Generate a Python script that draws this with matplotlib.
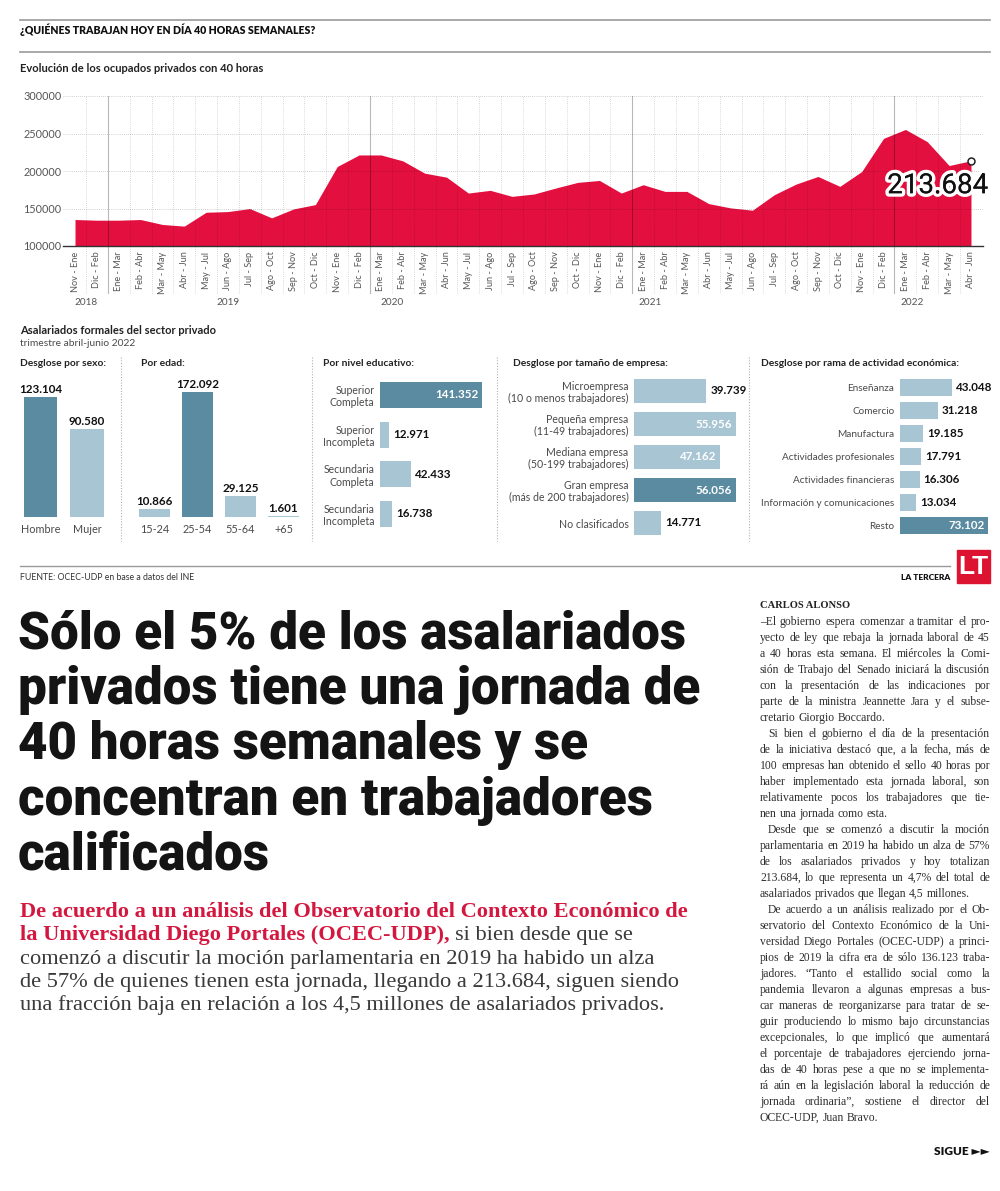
import matplotlib
matplotlib.use('Agg')
import numpy as np
import matplotlib.pyplot as plt
import matplotlib.patheffects as pe
import matplotlib.transforms as mtrans
from matplotlib import font_manager
from matplotlib.font_manager import FontProperties
from matplotlib.lines import Line2D
from matplotlib.patches import Rectangle

# ── datos ───────────────────────────────────────────────────
meses = ['Nov - Ene', 'Dic - Feb', 'Ene - Mar', 'Feb - Abr', 'Mar - May', 'Abr - Jun',
         'May - Jul', 'Jun - Ago', 'Jul - Sep', 'Ago - Oct', 'Sep - Nov', 'Oct - Dic']
periodos = meses * 3 + meses[:6]
ocupados = [135300, 134400, 134400, 135300, 128700, 126500, 145000, 145900, 149900,
            137500, 149400, 155200, 206000, 221400, 221400, 213500, 197100, 191800,
            170600, 174200, 166200, 169300, 177300, 184800, 187400, 170600, 181700,
            172800, 172800, 156500, 150800, 147700, 168400, 182600, 192700, 179500,
            199300, 243500, 255400, 239100, 207300, 213684]
anos = ['2018', '2019', '2020', '2021', '2022']
ano_pos = [0.5, 7, 14.5, 26.3, 38.3]
cortes_ano = [1.5, 13.5, 25.5, 37.5]

sexo_cat = ['Hombre', 'Mujer']
sexo_val = [123104, 90580]
edad_cat = ['15-24', '25-54', '55-64', '+65']
edad_val = [10866, 172092, 29125, 1601]
edu_cat = ['Superior\nCompleta', 'Superior\nIncompleta', 'Secundaria\nCompleta',
           'Secundaria\nIncompleta']
edu_val = [141352, 12971, 42433, 16738]
tam_cat = ['Microempresa\n(10 o menos trabajadores)', 'Pequeña empresa\n(11-49 trabajadores)',
           'Mediana empresa\n(50-199 trabajadores)', 'Gran empresa\n(más de 200 trabajadores)',
           'No clasificados']
tam_val = [39739, 55956, 47162, 56056, 14771]
rama_cat = ['Enseñanza', 'Comercio', 'Manufactura', 'Actividades profesionales',
            'Actividades financieras', 'Información y comunicaciones', 'Resto']
rama_val = [43048, 31218, 19185, 17791, 16306, 13034, 73102]

# ── estilo ──────────────────────────────────────────────────
RED = '#e3103f'
DARK = '#5b8ba0'
LIGHT = '#a8c5d3'
GTXT = '#4a4a4a'

fonts = {f.name for f in font_manager.fontManager.ttflist}
SANS = 'Lato' if 'Lato' in fonts else 'DejaVu Sans'
NARROW = 'Liberation Sans Narrow' if 'Liberation Sans Narrow' in fonts else 'Roboto'
SERIF = 'Liberation Serif' if 'Liberation Serif' in fonts else 'DejaVu Serif'
plt.rcParams['font.family'] = [SANS, 'DejaVu Sans']

W, H = 1000, 1191
fig = plt.figure(figsize=(W / 100, H / 100), dpi=100)
fig.patch.set_facecolor('white')
renderer = fig.canvas.get_renderer()


def px_ax(x0, y0, x1, y1):
    return fig.add_axes([x0 / W, 1 - y1 / H, (x1 - x0) / W, (y1 - y0) / H])


def ftxt(x, y, s, **kw):
    return fig.text(x / W, 1 - y / H, s, **kw)


def hline(y, x0, x1, color='#9a9a9a', lw=1.2, ls='-'):
    fig.add_artist(Line2D([x0 / W, x1 / W], [1 - y / H, 1 - y / H], color=color, lw=lw, ls=ls,
                          transform=fig.transFigure))


def vline(x, y0, y1, color='#b0b0b0', lw=0.8, ls=(0, (1, 1.5))):
    fig.add_artist(Line2D([x / W, x / W], [1 - y0 / H, 1 - y1 / H], color=color, lw=lw, ls=ls,
                          transform=fig.transFigure))


def text_w(s, prop):
    return renderer.get_text_width_height_descent(s, prop, ismath=False)[0]


def fmt(v):
    return f'{v:,}'.replace(',', '.')


# ── cabecera ────────────────────────────────────────────────
hline(20, 20, 990)
ftxt(20, 30, '¿QUIÉNES TRABAJAN HOY EN DÍA 40 HORAS SEMANALES?', fontsize=7.6,
     fontweight='heavy', va='center', color='#111')
hline(52, 20, 990)
ftxt(20, 68, 'Evolución de los ocupados privados con 40 horas', fontsize=8,
     fontweight='bold', va='center', color='#222')

# ── área ────────────────────────────────────────────────────
ax = px_ax(63, 96, 983, 246)
x = np.arange(len(ocupados))
ax.fill_between(x, ocupados, 100000, color=RED, lw=0, zorder=1)
ax.set_xlim(-0.55, 41.55)
ax.set_ylim(100000, 300000)
ax.set_yticks([100000, 150000, 200000, 250000, 300000])
ax.set_yticklabels(['100000', '150000', '200000', '250000', '300000'])
ax.set_xticks(x)
ax.set_xticklabels(periodos, rotation=90, fontsize=6.6, color='#555')
ax.tick_params(axis='y', length=0, pad=1, labelsize=7.8, labelcolor='#555')
ax.tick_params(axis='x', length=0, pad=4)
for s in ['top', 'right', 'left']:
    ax.spines[s].set_visible(False)
ax.spines['bottom'].set_color('#333')
ax.spines['bottom'].set_linewidth(1.0)
ax.spines['bottom'].set_zorder(4)
ax.yaxis.grid(True, color='#000', alpha=0.25, lw=0.6, ls=(0, (1, 1.5)), zorder=2)
ax.set_axisbelow(False)
tr = mtrans.blended_transform_factory(ax.transData, ax.transAxes)
for p in np.arange(0.5, 41):
    if p in cortes_ano:
        ax.plot([p, p], [-0.31, 1], transform=tr, color='#000', alpha=0.28, lw=0.8,
                clip_on=False, zorder=3)
    else:
        ax.plot([p, p], [-0.31, 1], transform=tr, color='#000', alpha=0.2, lw=0.6,
                ls=(0, (1, 1.5)), clip_on=False, zorder=3)
for a, p in zip(anos, ano_pos):
    ax.text(p, -0.375, a, transform=tr, ha='center', va='center', fontsize=7.2, color='#555')
ax.plot(x[-1], ocupados[-1], 'o', mfc='white', mec='#222', ms=5, mew=1.1,
        clip_on=False, zorder=6)
# etiqueta del último valor, colocada junto al punto final
px_last = ax.transData.transform((x[-1], ocupados[-1]))
lab = fig.text((px_last[0] + 17) / W, (px_last[1] - 25) / H, fmt(ocupados[-1]), ha='right',
               va='center', fontsize=20, family=NARROW, color='#111', zorder=7)
lab.set_path_effects([pe.withStroke(linewidth=5, foreground='white'), pe.Normal()])

# ── paneles de barras ───────────────────────────────────────
ftxt(20, 331, 'Asalariados formales del sector privado', fontsize=8, fontweight='bold',
     va='center', color='#222')
ftxt(20, 344, 'trimestre abril-junio 2022', fontsize=7.4, va='center', color=GTXT)
for hx, ht in [(20, 'Desglose por sexo:'), (141, 'Por edad:'), (323, 'Por nivel educativo:'),
               (513, 'Desglose por tamaño de empresa:'),
               (761, 'Desglose por rama de actividad económica:')]:
    ftxt(hx, 364, ht, fontsize=7.4, fontweight='bold', va='center', color='#222')
for vx in [121, 312, 497, 749]:
    vline(vx, 357, 541)


def colores(vals):
    m = int(np.argmax(vals))
    return [DARK if i == m else LIGHT for i in range(len(vals))]


def vbars(box, c0, step, k, cats, vals):
    x0, y0, x1, y1 = box
    a = px_ax(*box)
    a.bar(range(len(vals)), vals, width=0.72, color=colores(vals))
    a.set_xlim((x0 - c0) / step, (x1 - c0) / step)
    a.set_ylim(0, (y1 - y0) / k)
    a.set_xticks(range(len(vals)))
    a.set_xticklabels(cats, fontsize=7.8, color=GTXT)
    a.tick_params(length=0, pad=5)
    a.set_yticks([])
    for s in a.spines.values():
        s.set_visible(False)
    a.patch.set_alpha(0)
    for i, v in enumerate(vals):
        a.annotate(fmt(v), (i, v), xytext=(0, 2), textcoords='offset pixels', ha='center',
                   va='bottom', fontsize=8.4, fontweight='bold', color='#111')


def hbars(box, c0, step, k, cats, vals, h, fs=7.6):
    x0, y0, x1, y1 = box
    a = px_ax(*box)
    a.barh(range(len(vals)), vals, height=h, color=colores(vals))
    a.set_ylim((y1 - c0) / step, (y0 - c0) / step)
    a.set_xlim(0, (x1 - x0) / k)
    a.set_yticks(range(len(vals)))
    a.set_yticklabels(cats, fontsize=fs, color=GTXT, linespacing=1.15)
    a.tick_params(length=0, pad=4)
    a.set_xticks([])
    for s in a.spines.values():
        s.set_visible(False)
    a.patch.set_alpha(0)
    vmax = max(vals)
    for i, v in enumerate(vals):
        if v >= 0.8 * vmax:
            a.annotate(fmt(v), (v, i), xytext=(-4, 0), textcoords='offset pixels', ha='right',
                       va='center', fontsize=8.4, fontweight='bold', color='white')
        else:
            a.annotate(fmt(v), (v, i), xytext=(4, 0), textcoords='offset pixels', ha='left',
                       va='center', fontsize=8.4, fontweight='bold', color='#111')


vbars((20, 380, 110, 517), 40.5, 46.5, 0.000975, sexo_cat, sexo_val)
vbars((130, 380, 305, 517), 154.5, 43, 0.000727, edad_cat, edad_val)
hbars((380, 375, 490, 535), 395, 39.6, 0.000722, edu_cat, edu_val, 0.66)
hbars((634, 375, 740, 535), 391, 33, 0.001823, tam_cat, tam_val, 0.70)
hbars((900, 375, 992, 535), 387.7, 22.93, 0.001208, rama_cat, rama_val, 0.72, fs=7.2)

# ── pie del gráfico ─────────────────────────────────────────
hline(566, 20, 950, lw=1.0)
ftxt(20, 578, 'FUENTE: OCEC-UDP en base a datos del INE', fontsize=6.3, va='center',
     color='#333')
ftxt(950, 578, 'LA TERCERA', fontsize=6, fontweight='heavy', va='center', ha='right',
     color='#111')
fig.add_artist(Rectangle((957 / W, 1 - 583 / H), 33 / W, 33 / H, color='#dd1431',
                         transform=fig.transFigure))
ftxt(973.5, 567, 'LT', fontsize=19, fontweight='bold', color='white', ha='center',
     va='center', family='Liberation Sans')

# ── titular ─────────────────────────────────────────────────
titular = ['Sólo el 5% de los asalariados', 'privados tiene una jornada de',
           '40 horas semanales y se', 'concentran en trabajadores', 'calificados']
tp = FontProperties(family=NARROW, weight='black', size=40)
tsize = 40 * 668 / text_w(titular[0], tp)
for i, ln in enumerate(titular):
    ftxt(18, 648 + 55.6 * i, ln, fontsize=tsize, family=NARROW, fontweight='black',
         color='#141414', va='baseline')

# ── bajada ──────────────────────────────────────────────────
bp = FontProperties(family=SERIF, size=15)
bsize = 15 * 662 / text_w('de 57% de quienes tienen esta jornada, llegando a 213.684, siguen siendo', bp)
bp = FontProperties(family=SERIF, size=bsize)
bpb = FontProperties(family=SERIF, size=bsize, weight='bold')
LEDE_RED = '#d3173f'
ftxt(20, 917, 'De acuerdo a un análisis del Observatorio del Contexto Económico de',
     fontproperties=bpb, color=LEDE_RED, va='baseline')
rojo2 = 'la Universidad Diego Portales (OCEC-UDP),'
ftxt(20, 940.3, rojo2, fontproperties=bpb, color=LEDE_RED, va='baseline')
ftxt(20 + text_w(rojo2 + ' ', bpb), 940.3, 'si bien desde que se', fontproperties=bp,
     color='#3a3a3a', va='baseline')
for i, ln in enumerate(['comenzó a discutir la moción parlamentaria en 2019 ha habido un alza',
                        'de 57% de quienes tienen esta jornada, llegando a 213.684, siguen siendo',
                        'una fracción baja en relación a los 4,5 millones de asalariados privados.']):
    ftxt(20, 963.6 + 23.3 * i, ln, fontproperties=bp, color='#3a3a3a', va='baseline')

# ── columna de texto ────────────────────────────────────────
ftxt(760, 608, 'CARLOS ALONSO', fontsize=7.6, family=SERIF, fontweight='bold',
     color='#222', va='baseline')
parrafos = [
    ['–El gobierno espera comenzar a tramitar el pro-',
     'yecto de ley que rebaja la jornada laboral de 45',
     'a 40 horas esta semana. El miércoles la Comi-',
     'sión de Trabajo del Senado iniciará la discusión',
     'con la presentación de las indicaciones por',
     'parte de la ministra Jeannette Jara y el subse-',
     'cretario Giorgio Boccardo.'],
    ['Si bien el gobierno el día de la presentación',
     'de la iniciativa destacó que, a la fecha, más de',
     '100 empresas han obtenido el sello 40 horas por',
     'haber implementado esta jornada laboral, son',
     'relativamente pocos los trabajadores que tie-',
     'nen una jornada como esta.'],
    ['Desde que se comenzó a discutir la moción',
     'parlamentaria en 2019 ha habido un alza de 57%',
     'de los asalariados privados y hoy totalizan',
     '213.684, lo que representa un 4,7% del total de',
     'asalariados privados que llegan 4,5 millones.'],
    ['De acuerdo a un análisis realizado por el Ob-',
     'servatorio del Contexto Económico de la Uni-',
     'versidad Diego Portales (OCEC-UDP) a princi-',
     'pios de 2019 la cifra era de sólo 136.123 traba-',
     'jadores. “Tanto el estallido social como la',
     'pandemia llevaron a algunas empresas a bus-',
     'car maneras de reorganizarse para tratar de se-',
     'guir produciendo lo mismo bajo circunstancias',
     'excepcionales, lo que implicó que aumentará',
     'el porcentaje de trabajadores ejerciendo jorna-',
     'das de 40 horas pese a que no se implementa-',
     'rá aún en la legislación laboral la reducción de',
     'jornada ordinaria”, sostiene el director del',
     'OCEC-UDP, Juan Bravo.'],
]
X0, X1 = 760, 990
# tamaño de letra: la línea más ancha debe caber con un espacio mínimo entre palabras
p10 = FontProperties(family=SERIF, size=10)
sp10 = text_w('a a', p10) - text_w('aa', p10)
need = max(sum(text_w(w, p10) for w in ln.split(' ')) + 0.75 * sp10 * (len(ln.split(' ')) - 1)
           for par in parrafos for ln in par)
csize = min(10 * (X1 - X0 - 8) / need, 9.2)
cp = FontProperties(family=SERIF, size=csize)
sp = text_w('a a', cp) - text_w('aa', cp)
yy = 625
for pi, par in enumerate(parrafos):
    for li, ln in enumerate(par):
        xs = X0 + (8 if (li == 0 and pi > 0) else 0)
        words = ln.split(' ')
        ws = [text_w(w, cp) for w in words]
        last = li == len(par) - 1
        if not last and len(words) > 1:
            gap = (X1 - xs - sum(ws)) / (len(words) - 1)
        else:
            gap = sp
        cx = xs
        for w, wd in zip(words, ws):
            ftxt(cx, yy, w, fontproperties=cp, color='#2e2e2e', va='baseline')
            cx += wd + gap
        yy += 16

ftxt(990, 1155, 'SIGUE ►►', fontsize=8.6, fontweight='heavy', ha='right', va='baseline',
     color='#111', family=[SANS, 'DejaVu Sans'])

fig.savefig('out.png', dpi=100, facecolor='white')
